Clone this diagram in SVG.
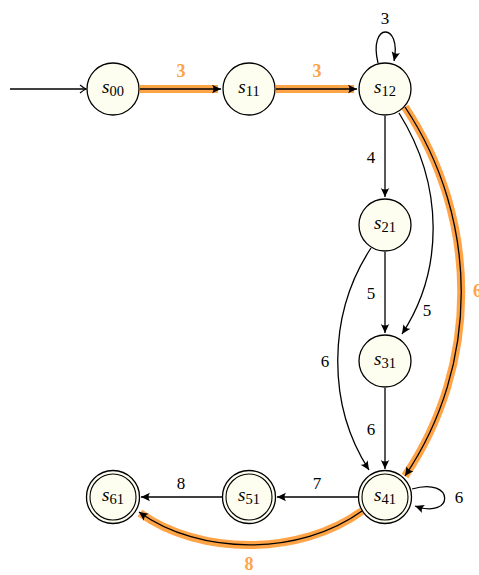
<svg xmlns="http://www.w3.org/2000/svg" width="479" height="575" viewBox="0 0 479 575">
<style>
.node{fill:#FDFDF0;stroke:#000;stroke-width:1.3}
.inner{fill:none;stroke:#000;stroke-width:1.1}
.edge{fill:none;stroke:#000;stroke-width:1.3}
.hl{fill:none;stroke:#FFA347;stroke-width:8}
.nl{font-family:"Liberation Serif","DejaVu Serif",serif;font-size:19px;fill:#000}
.sub{font-size:14.5px;font-style:normal}
.lab{font-family:"Liberation Serif","DejaVu Serif",serif;font-size:17px;fill:#000}
.olab{font-family:"Liberation Serif","DejaVu Serif",serif;font-size:18px;font-weight:bold;fill:#FFA347}
</style>
<defs>
<marker id="ah" markerUnits="userSpaceOnUse" markerWidth="12" markerHeight="12" viewBox="-10 -6 12 12" refX="0" refY="0" orient="auto">
<path d="M0,0 L-9,-4.2 Q-6,0 -9,4.2 Z" fill="#000"/>
</marker>
<marker id="to" markerUnits="userSpaceOnUse" markerWidth="12" markerHeight="12" viewBox="-10 -6 12 12" refX="0" refY="0" orient="auto">
<path d="M-6,-4 Q-2,-0.8 0,0 Q-2,0.8 -6,4" fill="none" stroke="#000" stroke-width="1.2"/>
</marker>
</defs>
<g id="connectors">
<path class="hl" d="M140,89 L218,89"/>
<path class="hl" d="M276,89 L354,89"/>
<path class="hl" d="M405,107 C480,220 480,365 405,476"/>
<path class="hl" d="M362,511 C300,556 200,556 140,513"/>
<path class="edge" d="M10,89 L86,89" marker-end="url(#to)"/>
<path class="edge" d="M140,89 L221,89" marker-end="url(#ah)"/>
<path class="edge" d="M276,89 L357,89" marker-end="url(#ah)"/>
<path class="edge" d="M378,63 C368,22 402,22 394,61" marker-end="url(#ah)"/>
<path class="edge" d="M385,116 L385,197" marker-end="url(#ah)"/>
<path class="edge" d="M399,113 C444,185 444,270 402,334" marker-end="url(#ah)"/>
<path class="edge" d="M385,252 L385,333" marker-end="url(#ah)"/>
<path class="edge" d="M371,248 C327,315 327,405 369,470" marker-end="url(#ah)"/>
<path class="edge" d="M385,388 L385,469" marker-end="url(#ah)"/>
<path class="edge" d="M405,107 C480,220 480,365 405,476" marker-end="url(#ah)"/>
<path class="edge" d="M412,489 C455,476 455,520 415,506" marker-end="url(#ah)"/>
<path class="edge" d="M358,497 L277,497" marker-end="url(#ah)"/>
<path class="edge" d="M222,497 L141,497" marker-end="url(#ah)"/>
<path class="edge" d="M362,511 C300,556 200,556 139,512" marker-end="url(#ah)"/>
</g>
<g id="labels">
<text class="olab" x="181" y="77" text-anchor="middle">3</text>
<text class="olab" x="317" y="77" text-anchor="middle">3</text>
<text class="lab" x="385" y="24" text-anchor="middle">3</text>
<text class="lab" x="371" y="163" text-anchor="middle">4</text>
<text class="lab" x="371" y="299" text-anchor="middle">5</text>
<text class="lab" x="427" y="316" text-anchor="middle">5</text>
<text class="lab" x="325" y="367" text-anchor="middle">6</text>
<text class="lab" x="371" y="435" text-anchor="middle">6</text>
<text class="olab" x="473" y="297">6</text>
<text class="lab" x="317" y="489" text-anchor="middle">7</text>
<text class="lab" x="181" y="489" text-anchor="middle">8</text>
<text class="lab" x="459" y="503" text-anchor="middle">6</text>
<text class="olab" x="249" y="570" text-anchor="middle">8</text>
</g>
<g id="s00"><circle class="node" cx="113" cy="89" r="26"/><text class="nl" x="113" y="93" text-anchor="middle"><tspan font-style="italic">s</tspan><tspan class="sub" dy="3">00</tspan></text></g>
<g id="s11"><circle class="node" cx="249" cy="89" r="26"/><text class="nl" x="249" y="93" text-anchor="middle"><tspan font-style="italic">s</tspan><tspan class="sub" dy="3">11</tspan></text></g>
<g id="s12"><circle class="node" cx="385" cy="89" r="26"/><text class="nl" x="385" y="93" text-anchor="middle"><tspan font-style="italic">s</tspan><tspan class="sub" dy="3">12</tspan></text></g>
<g id="s21"><circle class="node" cx="385" cy="225" r="26"/><text class="nl" x="385" y="229" text-anchor="middle"><tspan font-style="italic">s</tspan><tspan class="sub" dy="3">21</tspan></text></g>
<g id="s31"><circle class="node" cx="385" cy="361" r="26"/><text class="nl" x="385" y="365" text-anchor="middle"><tspan font-style="italic">s</tspan><tspan class="sub" dy="3">31</tspan></text></g>
<g id="s41"><circle class="node" cx="385" cy="497" r="26.5"/><circle class="inner" cx="385" cy="497" r="23"/><text class="nl" x="385" y="501" text-anchor="middle"><tspan font-style="italic">s</tspan><tspan class="sub" dy="3">41</tspan></text></g>
<g id="s51"><circle class="node" cx="249" cy="497" r="26.5"/><circle class="inner" cx="249" cy="497" r="23"/><text class="nl" x="249" y="501" text-anchor="middle"><tspan font-style="italic">s</tspan><tspan class="sub" dy="3">51</tspan></text></g>
<g id="s61"><circle class="node" cx="113" cy="497" r="26.5"/><circle class="inner" cx="113" cy="497" r="23"/><text class="nl" x="113" y="501" text-anchor="middle"><tspan font-style="italic">s</tspan><tspan class="sub" dy="3">61</tspan></text></g>
</svg>
